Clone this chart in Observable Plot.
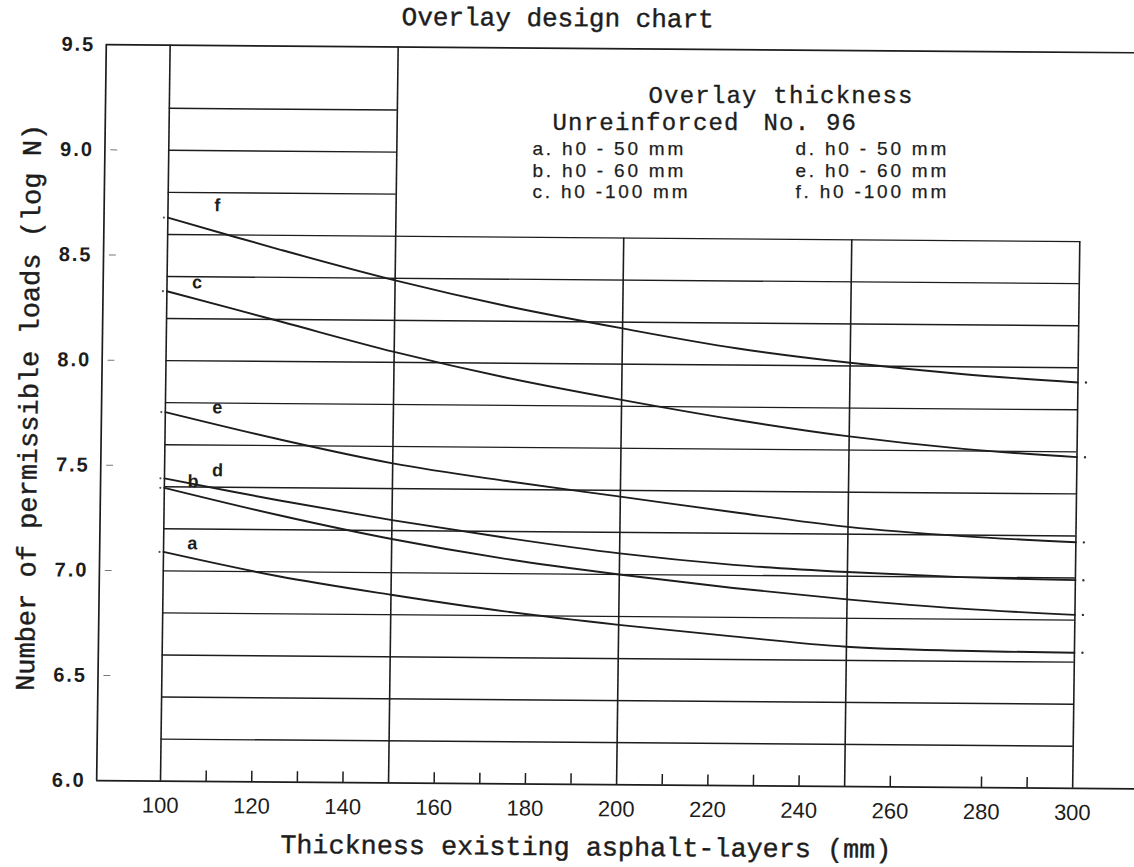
<!DOCTYPE html>
<html>
<head>
<meta charset="utf-8">
<script src="https://cdn.jsdelivr.net/npm/d3@7"></script>
<script src="https://cdn.jsdelivr.net/npm/@observablehq/plot@0.6"></script>
<style>
  html, body { margin: 0; padding: 0; background: #fff; overflow: hidden; }
  #chart { width: 1134px; height: 867px; overflow: hidden; position: relative; }
  #chart svg { max-width: none !important; transform: rotate(0.45deg) skewX(-0.3deg); transform-origin: 590px 413px; }
</style>
</head>
<body>
<div id="chart"></div>
<script>
// ---- data ----
const thickness = [100, 125, 150, 175, 200, 225, 250, 275, 300];
const curveA = [7.09, 6.98, 6.895, 6.82, 6.76, 6.71, 6.665, 6.65, 6.645];
const curveB = [7.395, 7.27, 7.16, 7.07, 7.00, 6.94, 6.89, 6.85, 6.825];
const curveC = [8.33, 8.19, 8.05, 7.93, 7.83, 7.74, 7.665, 7.61, 7.575];
const curveD = [7.44, 7.34, 7.25, 7.17, 7.10, 7.05, 7.02, 7.00, 6.99];
const curveE = [7.755, 7.63, 7.52, 7.44, 7.37, 7.30, 7.235, 7.195, 7.17];
const curveF = [8.68, 8.53, 8.39, 8.27, 8.17, 8.08, 8.015, 7.965, 7.93];
const curveNames = ["a", "b", "c", "d", "e", "f"];

const xTickLabels = [100, 120, 140, 160, 180, 200, 220, 240, 260, 280, 300];
const xMinorTicks = [110, 120, 130, 140, 160, 170, 180, 190, 210, 220, 230, 240, 260, 280, 290];
const yTickLabels = [6.0, 6.5, 7.0, 7.5, 8.0, 8.5, 9.0, 9.5];
const yMinorMarks = [6.5, 7.0, 7.5, 8.0, 8.5, 9.0];
const gridLow = [6.2, 6.4, 6.6, 6.8, 7.0, 7.2, 7.4, 7.6, 7.8, 8.0, 8.2, 8.4, 8.6];
const gridHigh = [8.8, 9.0, 9.2];
const verticalFull = [100, 150];
const verticalShort = [200, 250, 300];

const titleText = "Overlay design chart";
const xTitle = "Thickness existing asphalt-layers (mm)";
const yTitle = "Number of permissible loads (log N)";
const legendHead = "Overlay thickness";
const legendGroups = ["Unreinforced", "No. 96"];
const legendUnreinforced = ["a. h0 - 50 mm", "b. h0 - 60 mm", "c. h0 -100 mm"];
const legendNo96 = ["d. h0 - 50 mm", "e. h0 - 60 mm", "f. h0 -100 mm"];

// annotation anchors (data units)
const curveLabelX = [106.3, 106.3, 106.6, 111.6, 111.4, 110.8];
const curveLabelY = [7.131, 7.426, 8.372, 7.479, 7.779, 8.740];
const legendHeadPos = {x: 205.93, y: 9.2432};
const legendGroupX = [184.88, 231.15];
const legendGroupY = 9.1124;
const legendColX = [180.50, 238.16];
const legendRowY = [8.9935, 8.8912, 8.7890];

// ---- build ----
const X0 = 86, X1 = 316, Y0 = 6.0, Y1 = 9.5, YBOX = 8.6;
const ink = "#1d1d1d";
const mono = "'Liberation Mono', 'Courier New', monospace";
const sans = "'Liberation Sans', Arial, sans-serif";

const series = [curveA, curveB, curveC, curveD, curveE, curveF];
const rows = series.flatMap((vals, i) => thickness.map((t, j) => ({curve: curveNames[i], t, v: vals[j]})));
const starts = rows.filter(d => d.t === thickness[0]);
const ends = rows.filter(d => d.t === thickness[thickness.length - 1]);
const labels = curveNames.map((n, i) => ({n, x: curveLabelX[i], y: curveLabelY[i]}));

const monoLegend = [
  {t: legendHead, x: legendHeadPos.x, y: legendHeadPos.y},
  {t: legendGroups[0], x: legendGroupX[0], y: legendGroupY},
  {t: legendGroups[1], x: legendGroupX[1], y: legendGroupY}
];
const sansLegend = [
  ...legendUnreinforced.map((t, i) => ({t, x: legendColX[0], y: legendRowY[i]})),
  ...legendNo96.map((t, i) => ({t, x: legendColX[1], y: legendRowY[i]}))
];

const chart = Plot.plot({
  width: 1150,
  height: 867,
  marginLeft: 101,
  marginRight: 0,
  marginTop: 48,
  marginBottom: 83,
  x: {domain: [X0, X1]},
  y: {domain: [Y0, Y1]},
  style: {background: "transparent", fontFamily: sans, color: ink, maxWidth: "none"},
  marks: [
    // grid
    Plot.ruleY(gridLow, {x1: 100, x2: 300, stroke: ink, strokeWidth: 1.4}),
    Plot.ruleY(gridHigh, {x1: 100, x2: 150, stroke: ink, strokeWidth: 1.4}),
    Plot.ruleX(verticalFull, {y1: Y0, y2: Y1, stroke: ink, strokeWidth: 1.6}),
    Plot.ruleX(verticalShort, {y1: Y0, y2: YBOX, stroke: ink, strokeWidth: 1.6}),
    // frame
    Plot.ruleY([Y0, Y1], {x1: X0, x2: X1, stroke: ink, strokeWidth: 1.7}),
    Plot.ruleX([X0], {y1: Y0, y2: Y1, stroke: ink, strokeWidth: 1.7}),
    // minor ticks
    Plot.ruleX(xMinorTicks, {y1: Y0, y2: Y0 + 0.05, stroke: ink, strokeWidth: 1.5}),
    Plot.ruleY(yMinorMarks, {x1: 87.3, x2: 88.8, stroke: "#777", strokeWidth: 1}),
    // curves
    Plot.line(rows, {x: "t", y: "v", z: "curve", curve: "catmull-rom", stroke: ink, strokeWidth: 1.9}),
    Plot.dot(starts, {x: "t", y: "v", r: 1.1, fill: "#555", dx: -4}),
    Plot.dot(ends, {x: "t", y: "v", r: 1.2, fill: "#333", dx: 8}),
    Plot.text(labels, {x: "x", y: "y", text: "n", fontFamily: sans, fontSize: 18, fontWeight: "bold", fill: ink, lineAnchor: "middle"}),
    // axes
    Plot.axisX({ticks: xTickLabels, tickSize: 0, tickPadding: 16, fontSize: 22, label: null, fontFamily: sans, fill: ink}),
    Plot.axisY({ticks: yTickLabels, tickSize: 0, tickPadding: 11, fontSize: 20, fontWeight: "bold", label: null, fontFamily: sans, fill: ink, tickFormat: d => d.toFixed(1)}),
    // titles
    Plot.text([titleText], {frameAnchor: "top-left", dx: 295, dy: -22, lineAnchor: "bottom", textAnchor: "start", fontFamily: mono, fontSize: 26, fill: ink, stroke: ink, strokeWidth: 0.4}),
    Plot.text([xTitle], {frameAnchor: "bottom-left", dx: 490, dy: 71, lineAnchor: "bottom", textAnchor: "middle", fontFamily: mono, fontSize: 26.8, fill: ink, stroke: ink, strokeWidth: 0.4}),
    Plot.text([yTitle], {frameAnchor: "left", dx: -64, dy: -4.7, rotate: -90, lineAnchor: "bottom", textAnchor: "middle", fontFamily: mono, fontSize: 27, fill: ink, stroke: ink, strokeWidth: 0.4}),
    // legend
    Plot.text(monoLegend, {x: "x", y: "y", text: "t", lineAnchor: "bottom", textAnchor: "start", fontFamily: mono, fontSize: 24, fill: ink, stroke: ink, strokeWidth: 0.35}),
    Plot.text(sansLegend, {x: "x", y: "y", text: "t", lineAnchor: "bottom", textAnchor: "start", fontFamily: sans, fontSize: 19, fill: ink, stroke: ink, strokeWidth: 0.25})
  ]
});

const svg = d3.select(chart);
svg.selectAll('g[aria-label="y-axis tick label"] text').style("letter-spacing", "2px");
const monoSet = new Set(monoLegend.map(d => d.t));
const sansSet = new Set(sansLegend.map(d => d.t));
const legendParents = new Set();
svg.selectAll("text").each(function () {
  const s = this.textContent;
  if (monoSet.has(s)) { this.style.letterSpacing = "1.2px"; legendParents.add(this.parentNode); }
  if (sansSet.has(s)) { this.style.letterSpacing = "2.8px"; legendParents.add(this.parentNode); }
});
// keep the legend block upright (undo the page tilt for it only)
legendParents.forEach(node => {
  const wrap = document.createElementNS("http://www.w3.org/2000/svg", "g");
  wrap.setAttribute("transform", "translate(590,413) skewX(0.3) rotate(-0.45) translate(-590,-413)");
  node.parentNode.insertBefore(wrap, node);
  wrap.appendChild(node);
});
document.getElementById("chart").appendChild(chart);
</script>
</body>
</html>
